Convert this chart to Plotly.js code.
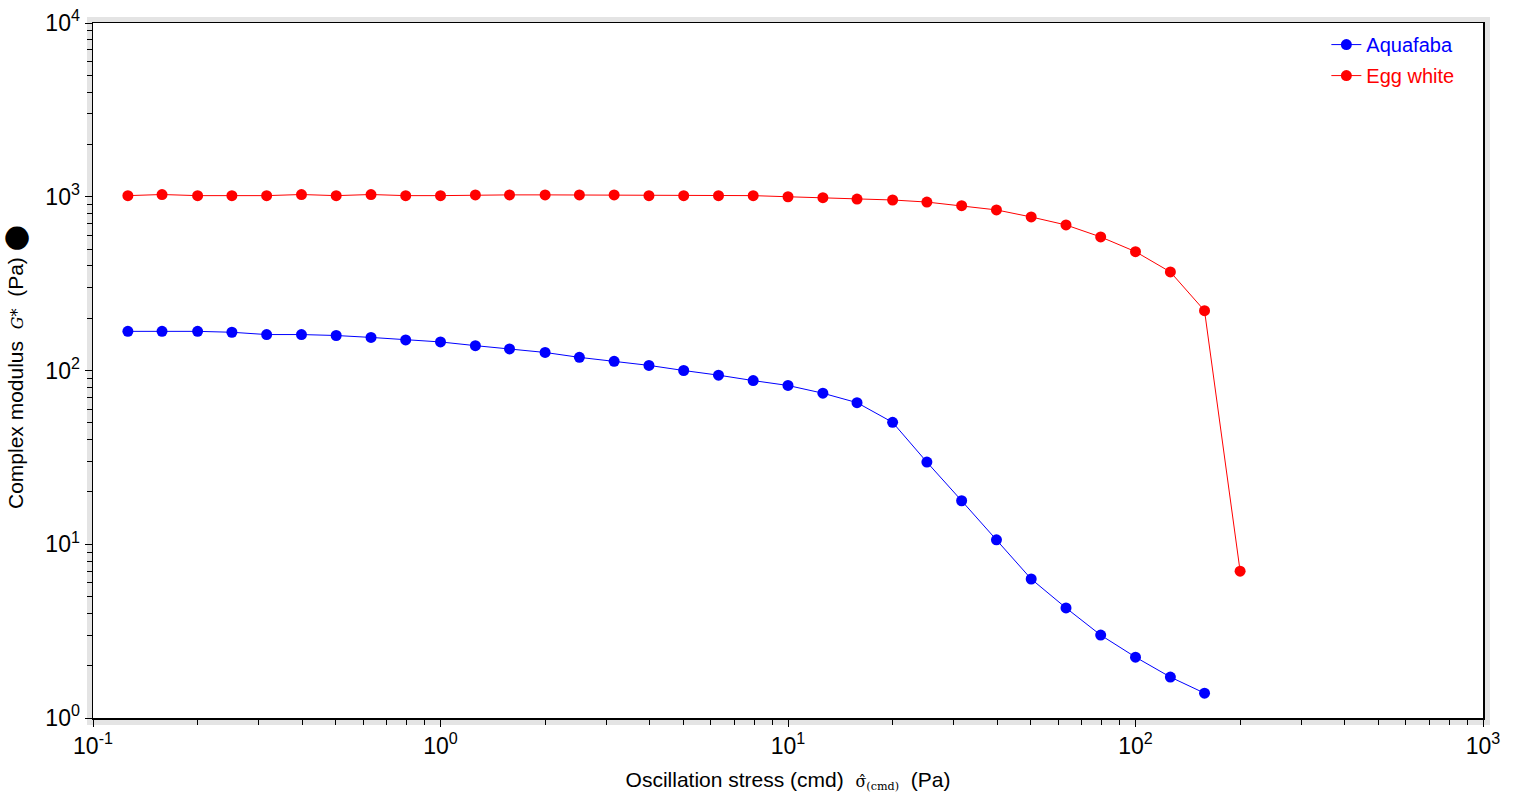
<!DOCTYPE html>
<html>
<head>
<meta charset="utf-8">
<script src="https://cdn.plot.ly/plotly-3.0.1.min.js"></script>
<style>html,body{margin:0;padding:0;background:#fff;}#chart{width:1522px;height:793px;}</style>
</head>
<body>
<div id="chart"></div>
<script>
// Oscillation stress (Pa)
const stress = [0.126, 0.158, 0.2, 0.251, 0.316, 0.398, 0.501, 0.631, 0.794, 1, 1.26, 1.58, 2, 2.51, 3.16, 3.98, 5.01, 6.31, 7.94, 10, 12.6, 15.8, 20, 25.1, 31.6, 39.8, 50.1, 63.1, 79.4, 100, 126, 158, 200];
// Complex modulus G* (Pa)
const aquafaba = [168, 168, 168, 166, 161, 161, 159, 155, 150, 146, 139, 133, 127, 119, 113, 107, 100, 94, 87.5, 82, 74, 65.3, 50.3, 29.7, 17.8, 10.6, 6.31, 4.3, 3.0, 2.24, 1.72, 1.39];
const eggWhite = [1015, 1030, 1015, 1015, 1015, 1030, 1015, 1030, 1015, 1015, 1025, 1025, 1025, 1025, 1025, 1015, 1015, 1015, 1015, 1000, 988, 970, 958, 932, 888, 840, 765, 688, 587, 483, 369, 221, 7.0];
const seriesNames = ['Aquafaba', 'Egg white'];
const xTickVals = [0.1, 1, 10, 100, 1000];
const xTickText = ['10<sup>-1</sup>', '10<sup>0</sup>', '10<sup>1</sup>', '10<sup>2</sup>', '10<sup>3</sup>'];
const yTickVals = [1, 10, 100, 1000, 10000];
const yTickText = ['10<sup>0</sup>', '10<sup>1</sup>', '10<sup>2</sup>', '10<sup>3</sup>', '10<sup>4</sup>'];
const xTitle = 'Oscillation stress (cmd)  <span style="font-family:\'DejaVu Serif\';font-size:16px">σ̂<sub>(cmd)</sub></span>  (Pa)';
const yTitle = 'Complex modulus  <span style="font-family:\'DejaVu Serif\';font-size:16px"><i>G*</i></span>  (Pa) <span style="font-size:23px">⬤</span>';

const FONT = 'Arial, "Liberation Sans", sans-serif';
const colors = ['#0000ff', '#ff0000'];

const traces = [
  {x: stress.slice(0, aquafaba.length), y: aquafaba, name: '<span style="color:#0000ff">' + seriesNames[0] + '</span>',
   legendgroup: 'a', type: 'scatter', mode: 'lines+markers',
   line: {color: colors[0], width: 1}, marker: {color: colors[0], size: 11}},
  {x: stress.slice(0, eggWhite.length), y: eggWhite, name: '<span style="color:#ff0000">' + seriesNames[1] + '</span>',
   legendgroup: 'b', type: 'scatter', mode: 'lines+markers',
   line: {color: colors[1], width: 1}, marker: {color: colors[1], size: 11}}
];

const axisCommon = {
  type: 'log', showgrid: false, zeroline: false,
  showline: true, linecolor: '#000', linewidth: 1.5, mirror: true,
  ticks: 'outside', ticklen: 7, tickcolor: '#000', tickwidth: 1,
  tickmode: 'array',
  tickfont: {family: FONT, size: 23, color: '#000'},
  minor: {tickmode: 'linear', dtick: 'D1', ticks: 'outside', ticklen: 5, tickcolor: '#000', tickwidth: 1, showgrid: false}
};

const layout = {
  width: 1522, height: 793,
  margin: {l: 93, r: 39, t: 23, b: 75},
  paper_bgcolor: '#fff', plot_bgcolor: '#fff',
  font: {family: FONT, color: '#000'},
  showlegend: true,
  legend: {x: 0.983, xanchor: 'right', y: 0.997, yanchor: 'top', bgcolor: 'rgba(0,0,0,0)',
           font: {family: FONT, size: 20}, itemwidth: 30, traceorder: 'grouped', tracegroupgap: 2},
  xaxis: Object.assign({}, axisCommon, {
    range: [-1, 3], tickvals: xTickVals, ticktext: xTickText,
    title: {text: xTitle, font: {family: FONT, size: 21, color: '#000'}, standoff: 14}
  }),
  yaxis: Object.assign({}, axisCommon, {
    range: [0, 4], tickvals: yTickVals, ticktext: yTickText
  }),
  annotations: [
    {text: yTitle, xref: 'paper', yref: 'paper', x: 0, y: 0.505, xshift: -78,
     xanchor: 'center', yanchor: 'middle', textangle: -90, showarrow: false,
     font: {family: FONT, size: 21, color: '#000'}}
  ],
  shapes: [
    {type: 'rect', xref: 'paper', yref: 'paper', layer: 'below',
     x0: -6/1390, x1: 1 + 7/1390, y0: -7/695, y1: 1 + 6/695,
     fillcolor: '#e4e4e4', line: {width: 0}},
    {type: 'rect', xref: 'paper', yref: 'paper', layer: 'below',
     x0: 0, x1: 1, y0: 0, y1: 1, fillcolor: '#ffffff', line: {width: 0}}
  ]
};

Plotly.newPlot('chart', traces, layout, {staticPlot: true, displayModeBar: false});
</script>
</body>
</html>
